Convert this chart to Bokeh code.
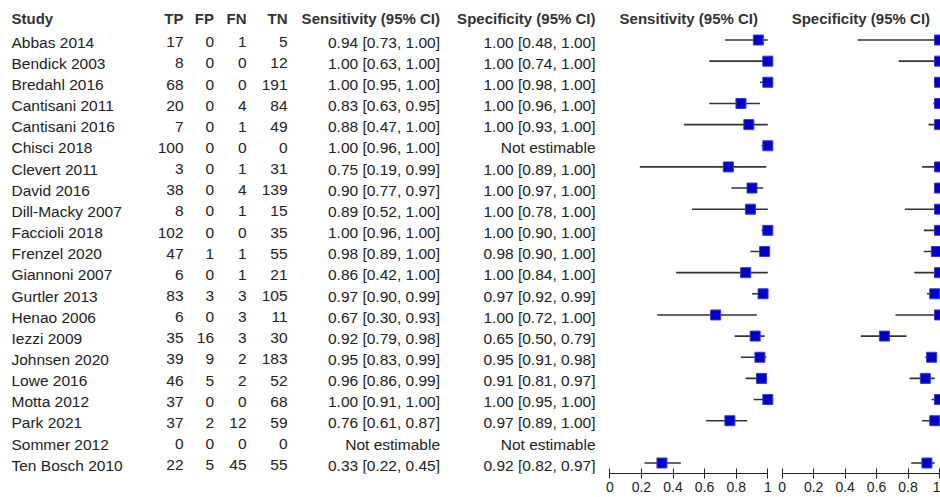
from bokeh.plotting import figure
from bokeh.models import ColumnDataSource, Range1d, FixedTicker, NumeralTickFormatter
from bokeh.layouts import row
from bokeh.core.properties import value
from bokeh.embed import file_html
from bokeh.resources import INLINE

# ---------------- data ----------------
studies = ["Abbas 2014", "Bendick 2003", "Bredahl 2016", "Cantisani 2011", "Cantisani 2016",
           "Chisci 2018", "Clevert 2011", "David 2016", "Dill-Macky 2007", "Faccioli 2018",
           "Frenzel 2020", "Giannoni 2007", "Gurtler 2013", "Henao 2006", "Iezzi 2009",
           "Johnsen 2020", "Lowe 2016", "Motta 2012", "Park 2021", "Sommer 2012", "Ten Bosch 2010"]
tp = [17, 8, 68, 20, 7, 100, 3, 38, 8, 102, 47, 6, 83, 6, 35, 39, 46, 37, 37, 0, 22]
fp = [0, 0, 0, 0, 0, 0, 0, 0, 0, 0, 1, 0, 3, 0, 16, 9, 5, 0, 2, 0, 5]
fn = [1, 0, 0, 4, 1, 0, 1, 4, 1, 0, 1, 1, 3, 3, 3, 2, 2, 0, 12, 0, 45]
tn = [5, 12, 191, 84, 49, 0, 31, 139, 15, 35, 55, 21, 105, 11, 30, 183, 52, 68, 59, 0, 55]
sens = [0.94, 1.00, 1.00, 0.83, 0.88, 1.00, 0.75, 0.90, 0.89, 1.00, 0.98, 0.86, 0.97, 0.67,
        0.92, 0.95, 0.96, 1.00, 0.76, None, 0.33]
sens_lo = [0.73, 0.63, 0.95, 0.63, 0.47, 0.96, 0.19, 0.77, 0.52, 0.96, 0.89, 0.42, 0.90, 0.30,
           0.79, 0.83, 0.86, 0.91, 0.61, None, 0.22]
sens_hi = [1.00, 1.00, 1.00, 0.95, 1.00, 1.00, 0.99, 0.97, 1.00, 1.00, 1.00, 1.00, 0.99, 0.93,
           0.98, 0.99, 0.99, 1.00, 0.87, None, 0.45]
spec = [1.00, 1.00, 1.00, 1.00, 1.00, None, 1.00, 1.00, 1.00, 1.00, 0.98, 1.00, 0.97, 1.00,
        0.65, 0.95, 0.91, 1.00, 0.97, None, 0.92]
spec_lo = [0.48, 0.74, 0.98, 0.96, 0.93, None, 0.89, 0.97, 0.78, 0.90, 0.90, 0.84, 0.92, 0.72,
           0.50, 0.91, 0.81, 0.95, 0.89, None, 0.82]
spec_hi = [1.00, 1.00, 1.00, 1.00, 1.00, None, 1.00, 1.00, 1.00, 1.00, 1.00, 1.00, 0.99, 1.00,
           0.79, 0.98, 0.97, 1.00, 1.00, None, 0.97]
axis_ticks = [0, 0.2, 0.4, 0.6, 0.8, 1]
header_cols = ["Study", "TP", "FP", "FN", "TN", "Sensitivity (95% CI)", "Specificity (95% CI)"]

# ---------------- layout constants ----------------
H = 497
BOTTOM = 24
FRAME_H = H - BOTTOM
ROW0 = 39.5      # pixel centre of first row
STEP = 21.15     # pixel step between rows
TEXT_DY = 2.2

FONT = "Liberation Sans"
BODY_SIZE = "15.5px"
HEAD_SIZE = "15px"
TXT = "#222222"
HEAD = "#333333"
SQ = "#0000c8"
LINE = "#333333"

n = len(studies)
rows = list(range(n))


def ci_text(v, lo, hi):
    if v is None:
        return "Not estimable"
    return f"{v:.2f} [{lo:.2f}, {hi:.2f}]"


src = ColumnDataSource(dict(
    y=rows, study=studies,
    tp=[str(v) for v in tp], fp=[str(v) for v in fp],
    fn=[str(v) for v in fn], tn=[str(v) for v in tn],
    sens_txt=[ci_text(a, b, c) for a, b, c in zip(sens, sens_lo, sens_hi)],
    spec_txt=[ci_text(a, b, c) for a, b, c in zip(spec, spec_lo, spec_hi)],
))


def base_fig(w, xr, axis=False):
    yr = Range1d((FRAME_H - ROW0) / STEP, -ROW0 / STEP)
    f = figure(width=w, height=H, x_range=xr, y_range=yr,
               output_backend="svg", toolbar_location=None,
               x_axis_location="below" if axis else None, y_axis_location=None,
               min_border_left=0, min_border_right=0,
               min_border_top=0, min_border_bottom=BOTTOM)
    f.outline_line_color = None
    f.xgrid.visible = False
    f.ygrid.visible = False
    f.background_fill_color = "white"
    f.border_fill_color = "white"
    return f


# ---------------- table ----------------
TW = 603
t = base_fig(TW, Range1d(0, TW))

col_x = [11, 183, 213.5, 246, 287, 439.5, 595]
col_align = ["left", "right", "right", "right", "right", "right", "right"]
col_field = ["study", "tp", "fp", "fn", "tn", "sens_txt", "spec_txt"]

for name, x, al, fld in zip(header_cols, col_x, col_align, col_field):
    t.text(x=[x], y=[-1], text=[name], text_align=al, text_baseline="middle",
           text_font=value(FONT), text_font_style="bold", text_font_size=HEAD_SIZE,
           text_color=HEAD)
    t.text(x=x, y="y", text=fld, source=src, text_align=al, text_baseline="middle",
           y_offset=TEXT_DY, text_font=value(FONT), text_font_size=BODY_SIZE, text_color=TXT)


# ---------------- forest plots ----------------
def forest(w, zero_px, unit_px, title, est, lo, hi):
    xr = Range1d(-zero_px / unit_px, (w - zero_px) / unit_px)
    f = base_fig(w, xr, axis=True)
    ys = [i for i in rows if est[i] is not None]
    s = ColumnDataSource(dict(y=ys, est=[est[i] for i in ys],
                              lo=[lo[i] for i in ys], hi=[hi[i] for i in ys]))
    f.segment(x0="lo", x1="hi", y0="y", y1="y", source=s, line_color=LINE, line_width=1.6)
    f.scatter(x="est", y="y", source=s, marker="square", size=10,
              fill_color=SQ, line_color="#3a3ae0", line_width=1)
    f.text(x=[0.5], y=[-1], text=[title], text_align="center", text_baseline="middle",
           text_font=value(FONT), text_font_style="bold", text_font_size=HEAD_SIZE,
           text_color=HEAD)
    ax = f.xaxis[0]
    ax.ticker = FixedTicker(ticks=axis_ticks)
    ax.formatter = NumeralTickFormatter(format="0.[0]")
    ax.bounds = (0, 1)
    ax.minor_tick_line_color = None
    ax.major_tick_in = 5
    ax.major_tick_out = 5
    ax.major_label_standoff = 3
    ax.axis_line_color = "#222222"
    ax.major_tick_line_color = "#222222"
    ax.major_label_text_font = FONT
    ax.major_label_text_font_size = "14px"
    ax.major_label_text_color = "#222222"
    return f


s_fig = forest(171, 6.3, 158.0, "Sensitivity (95% CI)", sens, sens_lo, sens_hi)
c_fig = forest(166, 7.7, 157.3, "Specificity (95% CI)", spec, spec_lo, spec_hi)

layout = row(t, s_fig, c_fig, spacing=0)
open("out.html", "w").write(file_html(layout, INLINE))
